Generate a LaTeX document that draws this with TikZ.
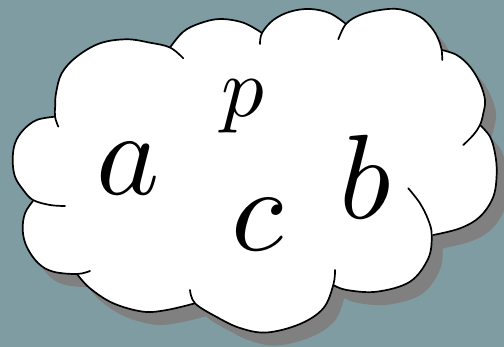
\documentclass[tikz,border=0pt]{standalone}
\definecolor{bgc}{RGB}{127,156,162}
\definecolor{shadowc}{RGB}{128,128,128}
\tikzset{
  puff/.style={smooth,tension=0.6},
  outline/.style={draw=black,line width=1.7pt,line cap=round,line join=round},
  letter/.style={inner sep=0pt,outer sep=0pt,scale=12},
  smallletter/.style={inner sep=0pt,outer sep=0pt,scale=8.5}
}
\def\pA{plot[puff] coordinates{(58.3,126.7) (55,116.7) (55.2,106) (56,93.3) (61.7,73.3) (76.7,56.7) (100,43.3) (126.7,39.3) (150,42.7) (170,47.5) (183.3,58.3)}}
\def\pB{plot[puff] coordinates{(170,47.5) (183.3,31.7) (200,23.3) (220,19) (243.3,22.7) (262,33)}}
\def\pC{plot[puff] coordinates{(260,44) (262,33) (273.3,20) (290,11.7) (310,9) (330,13.3) (346,24)}}
\def\pD{plot[puff] coordinates{(338.3,39.3) (346,24) (360,15) (380,10) (400,9.3) (420,16.7) (433.3,30) (440,43.3) (441.7,50) (442.3,60)}}
\def\pE{plot[puff] coordinates{(441.7,50) (456.7,55) (470,66.7) (480,83.3) (485,100) (483.3,113.3) (480,125) (473.3,135) (463.3,145)}}
\def\pF{plot[puff] coordinates{(480,125) (490,136.7) (495,153.3) (496.7,173.3) (493.3,196.7) (480,216.7) (460,228.3) (433.3,235)}}
\def\pG{plot[puff] coordinates{(408.3,188.3) (420,203.3) (428.3,220) (431.7,235) (428.3,258.3) (410,281.7) (376.7,291.7) (346.7,290) (333.3,285)}}
\def\pH{plot[puff] coordinates{(335,270) (333.3,285) (323.3,308.3) (300,324) (266.7,332.5) (240,328) (216.7,317) (195,303.3) (190,290)}}
\def\pI{plot[puff] coordinates{(195,303.3) (166.7,310) (143.3,311.7) (113.3,303.3) (90,288.3) (77,274)}}
\def\pJ{plot[puff] coordinates{(90,271) (77,274) (53.3,271.7) (38.3,263.3) (26.7,246.7) (22.7,230) (25,213.3) (33,201)}}
\def\pK{plot[puff] coordinates{(65,206) (50,205) (33,200) (23.3,190) (15,176.7) (12.7,160) (15,143.3) (23.3,130) (36.7,120) (55,116.7)}}
\def\core{(55,116.7) -- (170,47.5) -- (262,33) -- (346,24) -- (441.7,50) -- (480,125) -- (433.3,235) -- (333.3,285) -- (195,303.3) -- (77,274) -- (33,201) -- cycle}
\newcommand\cloudfill[1]{%
  \fill[#1,nonzero rule] \core
    \pA -- cycle \pB -- cycle \pC -- cycle
    \pD -- cycle \pE -- cycle \pF -- cycle
    \pG -- cycle \pH -- cycle \pI -- cycle
    \pJ -- cycle \pK -- cycle;}
\begin{document}
\begin{tikzpicture}[x=1pt,y=-1pt]
\useasboundingbox (0,0) rectangle (504,347);
\fill[bgc] (0,0) rectangle (504,347);
\begin{scope}[shift={(11,13)}]
  \cloudfill{shadowc}
\end{scope}
\cloudfill{white}
\draw[outline] \pA; \draw[outline] \pB; \draw[outline] \pC;
\draw[outline] \pD; \draw[outline] \pE; \draw[outline] \pF;
\draw[outline] \pG; \draw[outline] \pH; \draw[outline] \pI;
\draw[outline] \pJ; \draw[outline] \pK;
\node[letter] (a) at (128.3,168.3) {$a$};
\node[smallletter] (p) at (242.5,106.7) {$p$};
\node[letter] (c) at (257.5,225) {$c$};
\node[letter] (b) at (365,176.7) {$b$};
\end{tikzpicture}
\end{document}
